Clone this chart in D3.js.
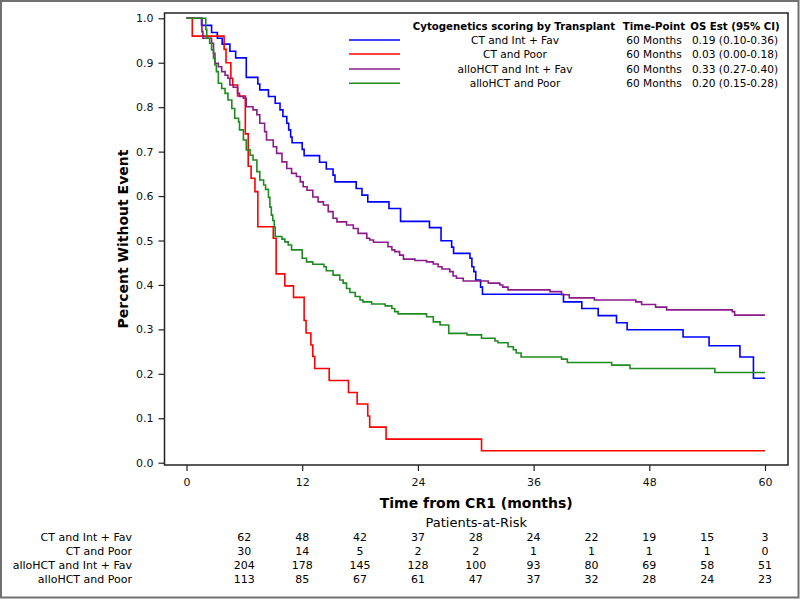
<!DOCTYPE html>
<html>
<head>
<meta charset="utf-8">
<script src="https://cdn.jsdelivr.net/npm/d3@7"></script>
<style>
  html, body { margin: 0; padding: 0; background: #fff; }
  svg { display: block; font-family: "DejaVu Sans", sans-serif; }
</style>
</head>
<body>
<svg id="chart" width="800" height="600"></svg>
<script>
// ---------- DATA ----------
const groups = ["CT and Int + Fav", "CT and Poor", "alloHCT and Int + Fav", "alloHCT and Poor"];
const groupColors = ["#0000ff", "#ff0000", "#8b1a8b", "#1e8c1e"];
const timePoints = ["60 Months", "60 Months", "60 Months", "60 Months"];
const osEstimates = ["0.19 (0.10-0.36)", "0.03 (0.00-0.18)", "0.33 (0.27-0.40)", "0.20 (0.15-0.28)"];

const xTicks = [0, 12, 24, 36, 48, 60];
const yTicks = [0, 0.1, 0.2, 0.3, 0.4, 0.5, 0.6, 0.7, 0.8, 0.9, 1.0];

const riskTimes = [6, 12, 18, 24, 30, 36, 42, 48, 54, 60];
const riskCTIntFav = [62, 48, 42, 37, 28, 24, 22, 19, 15, 3];
const riskCTPoor = [30, 14, 5, 2, 2, 1, 1, 1, 1, 0];
const riskAlloIntFav = [204, 178, 145, 128, 100, 93, 80, 69, 58, 51];
const riskAlloPoor = [113, 85, 67, 61, 47, 37, 32, 28, 24, 23];

// [months, survival] step points
const kmCTIntFav = [[0,1],[1.6,0.984],[2.6,0.968],[3.2,0.955],[3.7,0.942],[4.5,0.926],[5.1,0.911],[6.2,0.867],[7.4,0.852],[7.6,0.839],[8.5,0.824],[9.2,0.809],[9.7,0.794],[10.0,0.779],[10.4,0.764],[10.6,0.749],[10.8,0.733],[10.95,0.72],[12.0,0.705],[12.2,0.691],[13.8,0.676],[14.5,0.661],[15.2,0.647],[15.4,0.632],[17.6,0.617],[18.2,0.602],[18.8,0.587],[21.0,0.572],[22.2,0.543],[25.2,0.529],[26.4,0.4995],[27.5,0.485],[27.7,0.471],[29.4,0.46],[29.6,0.441],[29.8,0.43],[30.0,0.411],[30.5,0.395],[30.7,0.379],[39.1,0.362],[41.0,0.347],[42.7,0.331],[44.6,0.315],[45.7,0.299],[51.5,0.283],[54.2,0.263],[57.4,0.238],[58.8,0.19],[60,0.19]];

const kmCTPoor = [[0,1],[0.6,0.96],[3.9,0.93],[4.1,0.90],[4.6,0.865],[4.8,0.85],[5.3,0.825],[6.1,0.74],[6.4,0.667],[6.7,0.64],[7.1,0.61],[7.4,0.531],[9.0,0.505],[9.3,0.425],[10.2,0.398],[11.1,0.372],[12.2,0.32],[12.4,0.292],[12.9,0.265],[13.1,0.239],[13.3,0.212],[14.8,0.185],[16.8,0.158],[17.7,0.132],[18.8,0.105],[19.0,0.08],[20.7,0.053],[30.6,0.027],[60,0.027]];

const kmAlloIntFav = [[0,1],[1.55,0.985],[1.6,0.97],[1.7,0.955],[2.6,0.944],[2.8,0.921],[2.95,0.899],[3.3,0.891],[3.65,0.88],[4.0,0.872],[4.3,0.865],[4.5,0.85],[4.85,0.845],[5.3,0.831],[5.5,0.824],[5.9,0.82],[6.2,0.801],[6.9,0.794],[7.3,0.783],[7.6,0.764],[8.1,0.745],[8.3,0.726],[9.0,0.711],[9.35,0.696],[9.9,0.677],[10.4,0.662],[10.9,0.651],[11.4,0.644],[11.8,0.632],[12.1,0.621],[12.5,0.613],[13.1,0.598],[13.65,0.587],[14.2,0.58],[14.7,0.565],[15.2,0.55],[15.6,0.542],[16.6,0.535],[17.3,0.527],[17.8,0.516],[18.7,0.505],[19.0,0.501],[19.4,0.496],[20.9,0.486],[21.3,0.479],[21.6,0.475],[22.1,0.467],[22.5,0.458],[23.7,0.455],[24.9,0.452],[25.6,0.447],[26.1,0.441],[26.5,0.436],[27.3,0.43],[27.65,0.42],[28.0,0.415],[28.7,0.409],[31.3,0.404],[32.5,0.4],[32.8,0.395],[33.35,0.389],[37.7,0.385],[38.9,0.378],[39.7,0.371],[42.3,0.366],[46.6,0.362],[47.2,0.356],[48.65,0.35],[49.8,0.344],[56.6,0.34],[56.85,0.332],[60,0.332]];

const kmAlloPoor = [[0,1],[2.0,0.975],[2.1,0.955],[2.4,0.944],[2.6,0.929],[2.8,0.91],[2.95,0.895],[3.1,0.88],[3.3,0.854],[3.65,0.842],[4.0,0.831],[4.3,0.816],[4.7,0.797],[5.0,0.775],[5.4,0.767],[5.5,0.749],[5.9,0.726],[6.2,0.704],[6.6,0.692],[6.9,0.681],[7.3,0.655],[7.6,0.636],[8.0,0.625],[8.2,0.615],[8.5,0.597],[8.65,0.575],[8.8,0.557],[8.95,0.545],[9.1,0.53],[9.2,0.509],[9.9,0.503],[10.2,0.497],[10.55,0.49],[10.9,0.479],[12.0,0.46],[12.45,0.452],[13.1,0.4465],[14.25,0.441],[14.5,0.432],[15.2,0.422],[15.9,0.411],[16.25,0.404],[16.6,0.392],[16.95,0.383],[17.5,0.374],[18.0,0.366],[18.3,0.362],[19.2,0.357],[20.6,0.353],[21.3,0.347],[21.6,0.34],[21.95,0.335],[24.9,0.3285],[25.6,0.317],[26.3,0.31],[27.2,0.291],[29.1,0.2876],[30.6,0.28],[32.0,0.274],[32.3,0.27],[33.35,0.261],[33.9,0.254],[34.2,0.247],[34.7,0.238],[38.9,0.233],[39.5,0.2255],[44.1,0.2195],[46.0,0.212],[54.8,0.203],[60,0.203]];

const curves = [kmCTIntFav, kmCTPoor, kmAlloIntFav, kmAlloPoor];
const riskRows = [riskCTIntFav, riskCTPoor, riskAlloIntFav, riskAlloPoor];

// ---------- LAYOUT ----------
const svg = d3.select("#chart");
const frame = { left: 164.5, right: 788, top: 13, bottom: 465 };

const x = d3.scaleLinear().domain([0, 60]).range([186.5, 765]);
const y = d3.scaleLinear().domain([0, 1]).range([462.7, 18.3]);

// outer border
svg.append("rect")
  .attr("x", 1).attr("y", 1).attr("width", 797.5).attr("height", 596.5)
  .attr("fill", "#fff").attr("stroke", "#707070").attr("stroke-width", 2);

// curves
const line = d3.line().x(d => x(d[0])).y(d => y(d[1])).curve(d3.curveStepAfter);
const plot = svg.append("g");
curves.forEach((c, i) => {
  plot.append("path")
    .datum(c)
    .attr("d", line)
    .attr("fill", "none")
    .attr("stroke", groupColors[i])
    .attr("stroke-width", 1.6)
    .attr("stroke-linejoin", "miter");
});

// frame
svg.append("rect")
  .attr("x", frame.left).attr("y", frame.top)
  .attr("width", frame.right - frame.left).attr("height", frame.bottom - frame.top)
  .attr("fill", "none").attr("stroke", "#222").attr("stroke-width", 1.5);

// axes
const yAxis = d3.axisLeft(y).tickValues(yTicks).tickFormat(d3.format(".1f")).tickSize(6).tickPadding(5);
const gy = svg.append("g").attr("transform", `translate(${frame.left},0)`).call(yAxis);
gy.select(".domain").remove();
gy.selectAll("line").attr("stroke", "#222").attr("stroke-width", 1.2);
gy.selectAll("text").attr("font-size", 11).attr("font-family", "DejaVu Sans").attr("fill", "#111");

const xAxis = d3.axisBottom(x).tickValues(xTicks).tickFormat(d3.format("d")).tickSize(6).tickPadding(7);
const gx = svg.append("g").attr("transform", `translate(0,${frame.bottom})`).call(xAxis);
gx.select(".domain").remove();
gx.selectAll("line").attr("stroke", "#222").attr("stroke-width", 1.2);
gx.selectAll("text").attr("font-size", 11).attr("font-family", "DejaVu Sans").attr("fill", "#111");

// axis titles
const midX = (frame.left + frame.right) / 2;
svg.append("text")
  .attr("x", midX).attr("y", 508)
  .attr("text-anchor", "middle").attr("font-size", 14).attr("font-weight", "bold")
  .text("Time from CR1 (months)");

svg.append("text")
  .attr("transform", `translate(128,${(frame.top + frame.bottom) / 2}) rotate(-90)`)
  .attr("text-anchor", "middle").attr("font-size", 14).attr("font-weight", "bold")
  .text("Percent Without Event");

// legend
const legend = svg.append("g");
const legRowY = [40, 54, 69, 83.3];
legend.append("text").attr("x", 514).attr("y", 29.5).attr("text-anchor", "middle")
  .attr("font-size", 10.2).attr("font-weight", "bold").text("Cytogenetics scoring by Transplant");
legend.append("text").attr("x", 654).attr("y", 29.5).attr("text-anchor", "middle")
  .attr("font-size", 10.2).attr("font-weight", "bold").text("Time-Point");
legend.append("text").attr("x", 735).attr("y", 29.5).attr("text-anchor", "middle")
  .attr("font-size", 10.2).attr("font-weight", "bold").text("OS Est (95% CI)");
groups.forEach((g, i) => {
  const ly = legRowY[i];
  legend.append("line").attr("x1", 349).attr("x2", 400).attr("y1", ly).attr("y2", ly)
    .attr("stroke", groupColors[i]).attr("stroke-width", 1.6);
  legend.append("text").attr("x", 515).attr("y", ly + 4).attr("text-anchor", "middle")
    .attr("font-size", 10.6).text(g);
  legend.append("text").attr("x", 654).attr("y", ly + 4).attr("text-anchor", "middle")
    .attr("font-size", 10.6).text(timePoints[i]);
  legend.append("text").attr("x", 735).attr("y", ly + 4).attr("text-anchor", "middle")
    .attr("font-size", 10.6).text(osEstimates[i]);
});

// risk table
svg.append("text")
  .attr("x", midX).attr("y", 527)
  .attr("text-anchor", "middle").attr("font-size", 13)
  .text("Patients-at-Risk");
const riskY = [540.5, 554.5, 568.5, 582.5];
groups.forEach((g, i) => {
  svg.append("text").attr("x", 132).attr("y", riskY[i]).attr("text-anchor", "end")
    .attr("font-size", 11).text(g);
  riskRows[i].forEach((n, j) => {
    svg.append("text").attr("x", x(riskTimes[j])).attr("y", riskY[i])
      .attr("text-anchor", "middle").attr("font-size", 11).text(n);
  });
});
</script>
</body>
</html>
